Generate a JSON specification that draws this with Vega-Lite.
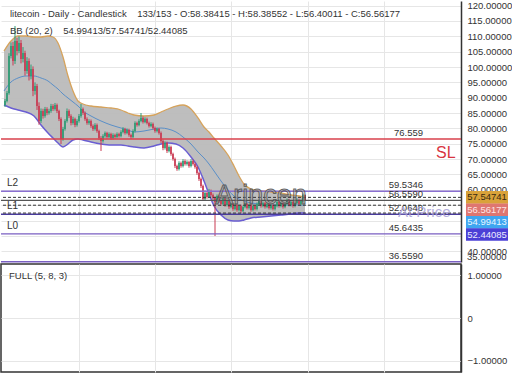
{
"$schema": "https://vega.github.io/schema/vega-lite/v6.json",
"padding": 0,
"spacing": 0,
"background": "white",
"config": {
 "view": {"stroke": null},
 "axis": {"labelFont": "Liberation Sans", "labelFontSize": 9.5, "labelColor": "#333", "gridColor": "#e6e6e6", "ticks": false, "title": null, "labelOverlap": false, "labelFlush": false},
 "text": {"font": "Liberation Sans"}
},
"datasets": {
 "candles": [
{"i":2,"o":87.63,"h":89.6,"l":87.0,"c":88.93},
{"i":3,"o":88.93,"h":92.2,"l":88.5,"c":91.54},
{"i":4,"o":91.54,"h":104.5,"l":91.0,"c":103.59},
{"i":5,"o":103.59,"h":108.0,"l":102.8,"c":106.84},
{"i":6,"o":106.84,"h":108.2,"l":100.5,"c":101.96},
{"i":7,"o":101.96,"h":113.36,"l":101.0,"c":108.47},
{"i":8,"o":108.47,"h":109.5,"l":103.8,"c":105.22},
{"i":9,"o":105.22,"h":110.0,"l":104.5,"c":107.82},
{"i":10,"o":107.82,"h":108.8,"l":101.2,"c":102.61},
{"i":11,"o":102.61,"h":106.5,"l":101.5,"c":104.57},
{"i":12,"o":104.57,"h":105.3,"l":97.2,"c":98.70},
{"i":13,"o":98.70,"h":103.2,"l":97.8,"c":101.96},
{"i":14,"o":101.96,"h":102.8,"l":95.6,"c":97.07},
{"i":15,"o":97.07,"h":100.8,"l":96.0,"c":99.35},
{"i":16,"o":99.35,"h":100.2,"l":90.5,"c":92.19},
{"i":17,"o":92.19,"h":95.0,"l":91.0,"c":93.82},
{"i":18,"o":93.82,"h":94.5,"l":86.0,"c":87.30},
{"i":19,"o":87.30,"h":88.5,"l":81.2,"c":82.42},
{"i":20,"o":82.42,"h":86.5,"l":81.8,"c":85.68},
{"i":21,"o":85.68,"h":86.4,"l":83.2,"c":84.05},
{"i":22,"o":84.05,"h":87.0,"l":83.5,"c":86.33},
{"i":23,"o":86.33,"h":86.9,"l":84.3,"c":85.02},
{"i":24,"o":85.02,"h":86.4,"l":84.5,"c":85.68},
{"i":25,"o":85.68,"h":88.0,"l":85.1,"c":87.30},
{"i":26,"o":87.30,"h":87.9,"l":85.7,"c":86.33},
{"i":27,"o":86.33,"h":88.3,"l":85.8,"c":87.63},
{"i":28,"o":87.63,"h":88.1,"l":85.0,"c":85.68},
{"i":29,"o":85.68,"h":86.1,"l":82.4,"c":83.07},
{"i":30,"o":83.07,"h":83.6,"l":74.93,"c":76.56},
{"i":31,"o":76.56,"h":80.5,"l":76.0,"c":79.81},
{"i":32,"o":79.81,"h":83.0,"l":79.3,"c":82.42},
{"i":33,"o":82.42,"h":86.5,"l":81.9,"c":85.68},
{"i":34,"o":85.68,"h":86.2,"l":83.4,"c":84.05},
{"i":35,"o":84.05,"h":84.6,"l":81.0,"c":81.77},
{"i":36,"o":81.77,"h":83.8,"l":81.2,"c":83.07},
{"i":37,"o":83.07,"h":83.5,"l":80.4,"c":81.12},
{"i":38,"o":81.12,"h":83.0,"l":80.6,"c":82.42},
{"i":39,"o":82.42,"h":84.7,"l":81.9,"c":84.05},
{"i":40,"o":84.05,"h":87.96,"l":83.5,"c":86.33},
{"i":41,"o":86.33,"h":86.8,"l":84.4,"c":85.02},
{"i":42,"o":85.02,"h":85.5,"l":82.5,"c":83.07},
{"i":43,"o":83.07,"h":83.6,"l":81.2,"c":81.77},
{"i":44,"o":81.77,"h":83.0,"l":81.2,"c":82.42},
{"i":45,"o":82.42,"h":82.9,"l":80.2,"c":80.79},
{"i":46,"o":80.79,"h":81.3,"l":79.2,"c":79.81},
{"i":47,"o":79.81,"h":81.7,"l":79.3,"c":81.12},
{"i":48,"o":81.12,"h":81.6,"l":78.6,"c":79.16},
{"i":49,"o":79.16,"h":79.6,"l":76.3,"c":76.88},
{"i":50,"o":76.88,"h":77.5,"l":72.65,"c":75.91},
{"i":51,"o":75.91,"h":78.1,"l":75.4,"c":77.53},
{"i":52,"o":77.53,"h":79.0,"l":77.0,"c":78.51},
{"i":53,"o":78.51,"h":78.9,"l":76.7,"c":77.21},
{"i":54,"o":77.21,"h":78.7,"l":76.8,"c":78.19},
{"i":55,"o":78.19,"h":78.6,"l":76.3,"c":76.88},
{"i":56,"o":76.88,"h":78.4,"l":76.4,"c":77.86},
{"i":57,"o":77.86,"h":78.3,"l":76.7,"c":77.21},
{"i":58,"o":77.21,"h":78.7,"l":76.8,"c":78.19},
{"i":59,"o":78.19,"h":78.6,"l":77.0,"c":77.53},
{"i":60,"o":77.53,"h":79.4,"l":77.1,"c":78.84},
{"i":61,"o":78.84,"h":80.4,"l":78.4,"c":79.81},
{"i":62,"o":79.81,"h":80.2,"l":78.0,"c":78.51},
{"i":63,"o":78.51,"h":80.0,"l":78.1,"c":79.49},
{"i":64,"o":79.49,"h":79.9,"l":77.3,"c":77.86},
{"i":65,"o":77.86,"h":78.3,"l":76.6,"c":77.21},
{"i":66,"o":77.21,"h":79.7,"l":76.8,"c":79.16},
{"i":67,"o":79.16,"h":82.3,"l":78.7,"c":81.77},
{"i":68,"o":81.77,"h":82.2,"l":80.6,"c":81.12},
{"i":69,"o":81.12,"h":83.0,"l":80.7,"c":82.42},
{"i":70,"o":82.42,"h":85.02,"l":82.0,"c":83.40},
{"i":71,"o":83.40,"h":83.9,"l":81.6,"c":82.09},
{"i":72,"o":82.09,"h":83.6,"l":81.7,"c":83.07},
{"i":73,"o":83.07,"h":83.5,"l":81.3,"c":81.77},
{"i":74,"o":81.77,"h":82.2,"l":80.3,"c":80.79},
{"i":75,"o":80.79,"h":82.0,"l":80.4,"c":81.44},
{"i":76,"o":81.44,"h":81.9,"l":79.6,"c":80.14},
{"i":77,"o":80.14,"h":80.6,"l":78.6,"c":79.16},
{"i":78,"o":79.16,"h":80.3,"l":78.7,"c":79.81},
{"i":79,"o":79.81,"h":80.2,"l":78.0,"c":78.51},
{"i":80,"o":78.51,"h":79.0,"l":75.3,"c":75.91},
{"i":81,"o":75.91,"h":76.4,"l":72.9,"c":73.63},
{"i":82,"o":73.63,"h":75.8,"l":73.1,"c":75.25},
{"i":83,"o":75.25,"h":75.7,"l":72.0,"c":72.65},
{"i":84,"o":72.65,"h":74.5,"l":72.2,"c":73.95},
{"i":85,"o":73.95,"h":74.4,"l":71.1,"c":71.67},
{"i":86,"o":71.67,"h":72.1,"l":69.5,"c":70.04},
{"i":87,"o":70.04,"h":70.5,"l":67.1,"c":67.76},
{"i":88,"o":67.76,"h":68.2,"l":66.2,"c":66.79},
{"i":89,"o":66.79,"h":69.3,"l":66.3,"c":68.74},
{"i":90,"o":68.74,"h":69.2,"l":67.2,"c":67.76},
{"i":91,"o":67.76,"h":70.0,"l":67.3,"c":69.39},
{"i":92,"o":69.39,"h":69.9,"l":67.9,"c":68.42},
{"i":93,"o":68.42,"h":69.6,"l":67.9,"c":69.07},
{"i":94,"o":69.07,"h":69.5,"l":67.2,"c":67.76},
{"i":95,"o":67.76,"h":70.0,"l":67.3,"c":69.39},
{"i":96,"o":69.39,"h":69.9,"l":67.9,"c":68.42},
{"i":97,"o":68.42,"h":68.9,"l":66.9,"c":67.44},
{"i":98,"o":67.44,"h":67.9,"l":64.9,"c":65.48},
{"i":99,"o":65.48,"h":65.9,"l":62.9,"c":63.53},
{"i":100,"o":63.53,"h":64.0,"l":60.6,"c":61.25},
{"i":101,"o":61.25,"h":61.7,"l":56.4,"c":57.02},
{"i":102,"o":57.02,"h":59.8,"l":56.6,"c":58.97},
{"i":103,"o":58.97,"h":59.4,"l":57.1,"c":57.67},
{"i":104,"o":57.67,"h":60.3,"l":57.2,"c":59.62},
{"i":105,"o":59.62,"h":60.1,"l":57.8,"c":58.32},
{"i":106,"o":58.32,"h":58.8,"l":56.8,"c":57.34},
{"i":107,"o":57.34,"h":57.8,"l":44.97,"c":56.04},
{"i":108,"o":56.04,"h":58.5,"l":55.6,"c":57.99},
{"i":109,"o":57.99,"h":58.4,"l":55.8,"c":56.37},
{"i":110,"o":56.37,"h":56.8,"l":54.8,"c":55.39},
{"i":111,"o":55.39,"h":57.5,"l":54.9,"c":57.02},
{"i":112,"o":57.02,"h":57.4,"l":54.5,"c":55.06},
{"i":113,"o":55.06,"h":56.9,"l":54.6,"c":56.37},
{"i":114,"o":56.37,"h":56.8,"l":53.8,"c":54.41},
{"i":115,"o":54.41,"h":55.9,"l":54.0,"c":55.39},
{"i":116,"o":55.39,"h":55.8,"l":53.2,"c":53.76},
{"i":117,"o":53.76,"h":55.6,"l":53.3,"c":55.06},
{"i":118,"o":55.06,"h":55.5,"l":52.9,"c":53.43},
{"i":119,"o":53.43,"h":55.2,"l":53.0,"c":54.74},
{"i":120,"o":54.74,"h":55.2,"l":52.5,"c":53.11},
{"i":121,"o":53.11,"h":54.9,"l":52.7,"c":54.41},
{"i":122,"o":54.41,"h":55.9,"l":54.0,"c":55.39},
{"i":123,"o":55.39,"h":55.8,"l":53.6,"c":54.09},
{"i":124,"o":54.09,"h":55.5,"l":53.6,"c":55.06},
{"i":125,"o":55.06,"h":55.5,"l":52.9,"c":53.43},
{"i":126,"o":53.43,"h":55.2,"l":53.0,"c":54.74},
{"i":127,"o":54.74,"h":55.2,"l":53.3,"c":53.76},
{"i":128,"o":53.76,"h":55.9,"l":53.3,"c":55.39},
{"i":129,"o":55.39,"h":56.8,"l":54.9,"c":56.37},
{"i":130,"o":56.37,"h":56.8,"l":54.2,"c":54.74},
{"i":131,"o":54.74,"h":56.2,"l":54.3,"c":55.71},
{"i":132,"o":55.71,"h":56.1,"l":53.9,"c":54.41},
{"i":133,"o":54.41,"h":55.9,"l":54.0,"c":55.39},
{"i":134,"o":55.39,"h":55.8,"l":53.6,"c":54.09},
{"i":135,"o":54.09,"h":55.5,"l":53.6,"c":55.06},
{"i":136,"o":55.06,"h":55.5,"l":53.3,"c":53.76},
{"i":137,"o":53.76,"h":55.2,"l":53.3,"c":54.74},
{"i":138,"o":54.74,"h":56.5,"l":54.3,"c":56.04},
{"i":139,"o":56.04,"h":56.5,"l":54.2,"c":54.74},
{"i":140,"o":54.74,"h":56.2,"l":54.3,"c":55.71},
{"i":141,"o":55.71,"h":56.1,"l":53.9,"c":54.41},
{"i":142,"o":54.41,"h":55.9,"l":54.0,"c":55.39},
{"i":143,"o":55.39,"h":57.2,"l":54.9,"c":56.69},
{"i":144,"o":56.69,"h":57.1,"l":54.6,"c":55.06},
{"i":145,"o":55.06,"h":56.5,"l":54.6,"c":56.04},
{"i":146,"o":56.04,"h":56.5,"l":54.2,"c":54.74},
{"i":147,"o":54.74,"h":56.2,"l":54.3,"c":55.71},
{"i":148,"o":55.71,"h":57.2,"l":55.3,"c":56.69},
{"i":149,"o":56.69,"h":57.1,"l":54.9,"c":55.39},
{"i":150,"o":55.39,"h":56.8,"l":54.9,"c":56.37},
{"i":151,"o":56.37,"h":58.8,"l":56.0,"c":58.38},
{"i":152,"o":58.38415,"h":58.38552,"l":56.40011,"c":56.56177}
 ],
 "band": [
{"i":1.5,"u":105.22,"m":92.19,"b":87.63},
{"i":5,"u":108.47,"m":95.12,"b":86.65},
{"i":8.5,"u":110.10,"m":96.42,"b":86.00},
{"i":12.5,"u":110.10,"m":97.07,"b":85.35},
{"i":16.5,"u":109.78,"m":97.07,"b":84.05},
{"i":20,"u":109.78,"m":96.42,"b":81.12},
{"i":23.5,"u":110.10,"m":95.45,"b":78.51},
{"i":26,"u":109.78,"m":94.14,"b":76.88},
{"i":28.5,"u":107.82,"m":92.84,"b":75.25},
{"i":31,"u":103.26,"m":91.21,"b":73.95},
{"i":33.5,"u":97.07,"m":89.91,"b":74.93},
{"i":36,"u":92.19,"m":88.61,"b":76.23},
{"i":38.5,"u":88.93,"m":87.30,"b":76.56},
{"i":41,"u":87.96,"m":85.68,"b":76.23},
{"i":45,"u":87.30,"m":84.05,"b":75.58},
{"i":50,"u":86.98,"m":82.42,"b":74.93},
{"i":55,"u":86.65,"m":81.12,"b":74.60},
{"i":60,"u":86.00,"m":80.14,"b":74.60},
{"i":63.5,"u":85.02,"m":79.49,"b":74.28},
{"i":66.5,"u":84.37,"m":78.84,"b":73.95},
{"i":71.5,"u":84.05,"m":79.16,"b":73.63},
{"i":76.5,"u":84.37,"m":79.81,"b":74.28},
{"i":80,"u":85.35,"m":80.14,"b":74.93},
{"i":83.5,"u":86.33,"m":79.81,"b":75.25},
{"i":87.5,"u":87.30,"m":78.84,"b":74.93},
{"i":91,"u":87.63,"m":77.21,"b":73.63},
{"i":95,"u":86.33,"m":74.93,"b":70.70},
{"i":98.5,"u":83.40,"m":72.32,"b":67.44},
{"i":101.5,"u":80.47,"m":70.37,"b":62.88},
{"i":104,"u":78.84,"m":68.42,"b":58.65},
{"i":106.5,"u":76.88,"m":66.14,"b":54.74},
{"i":110,"u":74.28,"m":62.88,"b":51.81},
{"i":113.5,"u":71.35,"m":59.95,"b":50.18},
{"i":116.5,"u":67.76,"m":57.99,"b":49.85},
{"i":119,"u":64.51,"m":57.02,"b":49.85},
{"i":121.5,"u":61.90,"m":56.37,"b":50.18},
{"i":125,"u":60.27,"m":55.71,"b":50.83},
{"i":130,"u":59.62,"m":55.39,"b":51.16},
{"i":135,"u":59.30,"m":55.06,"b":51.48},
{"i":140,"u":58.97,"m":55.06,"b":51.81},
{"i":145,"u":58.32,"m":55.06,"b":52.13},
{"i":149,"u":57.99,"m":55.06,"b":52.46},
{"i":152,"u":57.54741,"m":54.99413,"b":52.44085}
 ],
 "levels": [
{"name":"SL","v":76.559,"txt":"76.559"},
{"name":"L2","v":59.5346,"txt":"59.5346"},
{"name":"E","v":56.559,"txt":"56.5590"},
{"name":"L1","v":52.0648,"txt":"52.0648"},
{"name":"L0","v":45.6435,"txt":"45.6435"},
{"name":"B","v":36.559,"txt":"36.5590"}
 ]
},
"vconcat": [
{
 "width": 460,
 "height": 261,
 "layer": [
  {"data": {"name": "band"},
   "mark": {"type": "area", "color": "#bababa", "opacity": 0.95, "interpolate": "monotone"},
   "encoding": {
    "x": {"field": "i", "type": "quantitative", "scale": {"domain": [0, 230], "nice": false, "zero": false},
          "axis": {"values": [39, 77, 115, 153.5, 191.5], "labels": false, "domain": false, "grid": true, "title": null}},
    "y": {"field": "u", "type": "quantitative", "scale": {"domain": [36.5, 121.5], "nice": false, "zero": false},
          "axis": {"orient": "right", "values": [40,45,50,55,60,65,70,75,80,85,90,95,100,105,110,115,120], "labelExpr": "datum.value == 45 || datum.value == 50 || datum.value == 55 ? '' : format(datum.value, '.5f')", "labelPadding": 6, "domain": true, "domainColor": "#333", "domainWidth": 1.5, "grid": true, "title": null}},
    "y2": {"field": "b"}
   }},
  {"data": {"name": "band"},
   "mark": {"type": "line", "color": "#d6a35c", "strokeWidth": 1.3, "interpolate": "monotone"},
   "encoding": {
    "x": {"field": "i", "type": "quantitative", "axis": {"values": [39, 77, 115, 153.5, 191.5], "labels": false, "domain": false, "grid": true, "title": null}},
    "y": {"field": "u", "type": "quantitative", "axis": {"orient": "right", "values": [40,45,50,55,60,65,70,75,80,85,90,95,100,105,110,115,120], "labelExpr": "datum.value == 45 || datum.value == 50 || datum.value == 55 ? '' : format(datum.value, '.5f')", "labelPadding": 6, "domain": true, "domainColor": "#333", "domainWidth": 1.5, "grid": true, "title": null}}}},
  {"data": {"name": "band"},
   "mark": {"type": "line", "color": "#6a5ed2", "strokeWidth": 1.5, "interpolate": "monotone"},
   "encoding": {
    "x": {"field": "i", "type": "quantitative", "axis": {"values": [39, 77, 115, 153.5, 191.5], "labels": false, "domain": false, "grid": true, "title": null}},
    "y": {"field": "b", "type": "quantitative", "axis": {"orient": "right", "values": [40,45,50,55,60,65,70,75,80,85,90,95,100,105,110,115,120], "labelExpr": "datum.value == 45 || datum.value == 50 || datum.value == 55 ? '' : format(datum.value, '.5f')", "labelPadding": 6, "domain": true, "domainColor": "#333", "domainWidth": 1.5, "grid": true, "title": null}}}},
  {"data": {"name": "band"},
   "mark": {"type": "line", "color": "#5a8fc8", "strokeWidth": 1, "interpolate": "monotone"},
   "encoding": {
    "x": {"field": "i", "type": "quantitative", "axis": {"values": [39, 77, 115, 153.5, 191.5], "labels": false, "domain": false, "grid": true, "title": null}},
    "y": {"field": "m", "type": "quantitative", "axis": {"orient": "right", "values": [40,45,50,55,60,65,70,75,80,85,90,95,100,105,110,115,120], "labelExpr": "datum.value == 45 || datum.value == 50 || datum.value == 55 ? '' : format(datum.value, '.5f')", "labelPadding": 6, "domain": true, "domainColor": "#333", "domainWidth": 1.5, "grid": true, "title": null}}}},
  {"data": {"name": "candles"},
   "mark": {"type": "rule", "strokeWidth": 1},
   "encoding": {
    "x": {"field": "i", "type": "quantitative", "axis": {"values": [39, 77, 115, 153.5, 191.5], "labels": false, "domain": false, "grid": true, "title": null}},
    "y": {"field": "l", "type": "quantitative", "axis": {"orient": "right", "values": [40,45,50,55,60,65,70,75,80,85,90,95,100,105,110,115,120], "labelExpr": "datum.value == 45 || datum.value == 50 || datum.value == 55 ? '' : format(datum.value, '.5f')", "labelPadding": 6, "domain": true, "domainColor": "#333", "domainWidth": 1.5, "grid": true, "title": null}},
    "y2": {"field": "h"},
    "color": {"condition": {"test": "datum.c >= datum.o", "value": "#2e9b74"}, "value": "#c93a52"}}},
  {"data": {"name": "candles"},
   "mark": {"type": "rule", "strokeWidth": 1.6},
   "encoding": {
    "x": {"field": "i", "type": "quantitative", "axis": {"values": [39, 77, 115, 153.5, 191.5], "labels": false, "domain": false, "grid": true, "title": null}},
    "y": {"field": "o", "type": "quantitative", "axis": {"orient": "right", "values": [40,45,50,55,60,65,70,75,80,85,90,95,100,105,110,115,120], "labelExpr": "datum.value == 45 || datum.value == 50 || datum.value == 55 ? '' : format(datum.value, '.5f')", "labelPadding": 6, "domain": true, "domainColor": "#333", "domainWidth": 1.5, "grid": true, "title": null}},
    "y2": {"field": "c"},
    "color": {"condition": {"test": "datum.c >= datum.o", "value": "#2e9b74"}, "value": "#c93a52"}}},
  {"data": {"name": "levels"},
   "mark": {"type": "rule", "strokeWidth": 1.4},
   "encoding": {
    "y": {"field": "v", "type": "quantitative", "axis": {"orient": "right", "values": [40,45,50,55,60,65,70,75,80,85,90,95,100,105,110,115,120], "labelExpr": "datum.value == 45 || datum.value == 50 || datum.value == 55 ? '' : format(datum.value, '.5f')", "labelPadding": 6, "domain": true, "domainColor": "#333", "domainWidth": 1.5, "grid": true, "title": null}},
    "color": {"field": "name", "type": "nominal", "legend": null,
     "scale": {"domain": ["SL","L2","E","L1","L0","B"], "range": ["#d8414b","#8a6fcf","#555555","#4a3c9c","#7a5fc2","#7a5fc2"]}}}},
  {"data": {"values": [{"v": 57.54741}, {"v": 54.99413}, {"v": 52.44085}]},
   "mark": {"type": "rule", "strokeDash": [3, 2], "color": "#333", "strokeWidth": 1},
   "encoding": {
    "y": {"field": "v", "type": "quantitative", "axis": {"orient": "right", "values": [40,45,50,55,60,65,70,75,80,85,90,95,100,105,110,115,120], "labelExpr": "datum.value == 45 || datum.value == 50 || datum.value == 55 ? '' : format(datum.value, '.5f')", "labelPadding": 6, "domain": true, "domainColor": "#333", "domainWidth": 1.5, "grid": true, "title": null}}}},
  {"data": {"name": "levels"},
   "mark": {"type": "text", "align": "right", "baseline": "bottom", "dy": -1, "fontSize": 9.5, "color": "#333"},
   "encoding": {
    "x": {"datum": 211, "type": "quantitative", "axis": {"values": [39, 77, 115, 153.5, 191.5], "labels": false, "domain": false, "grid": true, "title": null}},
    "y": {"field": "v", "type": "quantitative", "axis": {"orient": "right", "values": [40,45,50,55,60,65,70,75,80,85,90,95,100,105,110,115,120], "labelExpr": "datum.value == 45 || datum.value == 50 || datum.value == 55 ? '' : format(datum.value, '.5f')", "labelPadding": 6, "domain": true, "domainColor": "#333", "domainWidth": 1.5, "grid": true, "title": null}},
    "text": {"field": "txt"}}},
  {"data": {"name": "levels"},
   "transform": [{"filter": "datum.name == 'L2' || datum.name == 'L1' || datum.name == 'L0'"}],
   "mark": {"type": "text", "align": "left", "baseline": "bottom", "dy": -3, "fontSize": 10, "color": "#333"},
   "encoding": {
    "x": {"datum": 3, "type": "quantitative", "axis": {"values": [39, 77, 115, 153.5, 191.5], "labels": false, "domain": false, "grid": true, "title": null}},
    "y": {"field": "v", "type": "quantitative", "axis": {"orient": "right", "values": [40,45,50,55,60,65,70,75,80,85,90,95,100,105,110,115,120], "labelExpr": "datum.value == 45 || datum.value == 50 || datum.value == 55 ? '' : format(datum.value, '.5f')", "labelPadding": 6, "domain": true, "domainColor": "#333", "domainWidth": 1.5, "grid": true, "title": null}},
    "text": {"field": "name"}}},
  {"data": {"values": [{"t": "litecoin - Daily - Candlestick\u00a0\u00a0\u00a0 133/153 - O:58.38415 - H:58.38552 - L:56.40011 - C:56.56177"}]},
   "mark": {"type": "text", "align": "left", "baseline": "middle", "fontSize": 9.5, "color": "#333"},
   "encoding": {
    "x": {"datum": 4.5, "type": "quantitative", "axis": {"values": [39, 77, 115, 153.5, 191.5], "labels": false, "domain": false, "grid": true, "title": null}},
    "y": {"datum": 117.27, "type": "quantitative", "axis": {"orient": "right", "values": [40,45,50,55,60,65,70,75,80,85,90,95,100,105,110,115,120], "labelExpr": "datum.value == 45 || datum.value == 50 || datum.value == 55 ? '' : format(datum.value, '.5f')", "labelPadding": 6, "domain": true, "domainColor": "#333", "domainWidth": 1.5, "grid": true, "title": null}},
    "text": {"field": "t"}}},
  {"data": {"values": [{"t": "BB (20, 2)\u00a0\u00a0\u00a0 54.99413/57.54741/52.44085"}]},
   "mark": {"type": "text", "align": "left", "baseline": "middle", "fontSize": 9.5, "color": "#333"},
   "encoding": {
    "x": {"datum": 4.5, "type": "quantitative", "axis": {"values": [39, 77, 115, 153.5, 191.5], "labels": false, "domain": false, "grid": true, "title": null}},
    "y": {"datum": 111.73, "type": "quantitative", "axis": {"orient": "right", "values": [40,45,50,55,60,65,70,75,80,85,90,95,100,105,110,115,120], "labelExpr": "datum.value == 45 || datum.value == 50 || datum.value == 55 ? '' : format(datum.value, '.5f')", "labelPadding": 6, "domain": true, "domainColor": "#333", "domainWidth": 1.5, "grid": true, "title": null}},
    "text": {"field": "t"}}},
  {"data": {"values": [{"t": "SL"}]},
   "mark": {"type": "text", "align": "left", "baseline": "middle", "fontSize": 16, "color": "#d8343f"},
   "encoding": {
    "x": {"datum": 217.5, "type": "quantitative", "axis": {"values": [39, 77, 115, 153.5, 191.5], "labels": false, "domain": false, "grid": true, "title": null}},
    "y": {"datum": 72.0, "type": "quantitative", "axis": {"orient": "right", "values": [40,45,50,55,60,65,70,75,80,85,90,95,100,105,110,115,120], "labelExpr": "datum.value == 45 || datum.value == 50 || datum.value == 55 ? '' : format(datum.value, '.5f')", "labelPadding": 6, "domain": true, "domainColor": "#333", "domainWidth": 1.5, "grid": true, "title": null}},
    "text": {"field": "t"}}},
  {"data": {"values": [{"t": "Arincen"}]},
   "mark": {"type": "text", "align": "center", "baseline": "middle", "fontSize": 27, "fill": "#a0a0a0", "fillOpacity": 0.45, "stroke": "#4a4a4a", "strokeWidth": 0.9, "strokeOpacity": 0.85},
   "encoding": {
    "x": {"datum": 130, "type": "quantitative", "axis": {"values": [39, 77, 115, 153.5, 191.5], "labels": false, "domain": false, "grid": true, "title": null}},
    "y": {"datum": 57.99, "type": "quantitative", "axis": {"orient": "right", "values": [40,45,50,55,60,65,70,75,80,85,90,95,100,105,110,115,120], "labelExpr": "datum.value == 45 || datum.value == 50 || datum.value == 55 ? '' : format(datum.value, '.5f')", "labelPadding": 6, "domain": true, "domainColor": "#333", "domainWidth": 1.5, "grid": true, "title": null}},
    "text": {"field": "t"}}},
  {"data": {"values": [{"t": "At Price"}]},
   "mark": {"type": "text", "align": "left", "baseline": "middle", "fontSize": 15, "color": "#a9a2d8", "opacity": 0.85},
   "encoding": {
    "x": {"datum": 198.5, "type": "quantitative", "axis": {"values": [39, 77, 115, 153.5, 191.5], "labels": false, "domain": false, "grid": true, "title": null}},
    "y": {"datum": 52.78, "type": "quantitative", "axis": {"orient": "right", "values": [40,45,50,55,60,65,70,75,80,85,90,95,100,105,110,115,120], "labelExpr": "datum.value == 45 || datum.value == 50 || datum.value == 55 ? '' : format(datum.value, '.5f')", "labelPadding": 6, "domain": true, "domainColor": "#333", "domainWidth": 1.5, "grid": true, "title": null}},
    "text": {"field": "t"}}},
  {"data": {"values": [{"t": "35.00000"}]},
   "mark": {"type": "text", "align": "left", "baseline": "bottom", "fontSize": 9.5, "color": "#333"},
   "encoding": {
    "x": {"datum": 233, "type": "quantitative", "axis": {"values": [39, 77, 115, 153.5, 191.5], "labels": false, "domain": false, "grid": true, "title": null}},
    "y": {"datum": 36.5, "type": "quantitative", "axis": {"orient": "right", "values": [40,45,50,55,60,65,70,75,80,85,90,95,100,105,110,115,120], "labelExpr": "datum.value == 45 || datum.value == 50 || datum.value == 55 ? '' : format(datum.value, '.5f')", "labelPadding": 6, "domain": true, "domainColor": "#333", "domainWidth": 1.5, "grid": true, "title": null}},
    "text": {"field": "t"}}},
  {"data": {"values": [{"v": 57.54741, "k": 1}, {"v": 56.56177, "k": 2}, {"v": 54.99413, "k": 3}, {"v": 52.44085, "k": 4}]},
   "layer": [
    {"transform": [{"filter": "datum.k == 1"}], "mark": {"type": "point", "filled": true, "opacity": 1, "shape": "M-1,-0.3L1,-0.3L1,0.3L-1,0.3Z", "size": 1764, "color": "#d9a23a", "yOffset": 0}},
    {"transform": [{"filter": "datum.k == 1"}], "mark": {"type": "text", "align": "center", "baseline": "middle", "fontSize": 9.5, "color": "#3a2a10", "yOffset": 0}, "encoding": {"text": {"field": "v", "format": ".5f"}}},
    {"transform": [{"filter": "datum.k == 2"}], "mark": {"type": "point", "filled": true, "opacity": 1, "shape": "M-1,-0.3L1,-0.3L1,0.3L-1,0.3Z", "size": 1764, "color": "#df7670", "yOffset": 9.3}},
    {"transform": [{"filter": "datum.k == 2"}], "mark": {"type": "text", "align": "center", "baseline": "middle", "fontSize": 9.5, "color": "#fde4e4", "yOffset": 9.3}, "encoding": {"text": {"field": "v", "format": ".5f"}}},
    {"transform": [{"filter": "datum.k == 3"}], "mark": {"type": "point", "filled": true, "opacity": 1, "shape": "M-1,-0.3L1,-0.3L1,0.3L-1,0.3Z", "size": 1764, "color": "#3fa6f0", "yOffset": 17}},
    {"transform": [{"filter": "datum.k == 3"}], "mark": {"type": "text", "align": "center", "baseline": "middle", "fontSize": 9.5, "color": "#e8f6ff", "yOffset": 17}, "encoding": {"text": {"field": "v", "format": ".5f"}}},
    {"transform": [{"filter": "datum.k == 4"}], "mark": {"type": "point", "filled": true, "opacity": 1, "shape": "M-1,-0.3L1,-0.3L1,0.3L-1,0.3Z", "size": 1764, "color": "#4b40d6", "yOffset": 21.5}},
    {"transform": [{"filter": "datum.k == 4"}], "mark": {"type": "text", "align": "center", "baseline": "middle", "fontSize": 9.5, "color": "#ececff", "yOffset": 21.5}, "encoding": {"text": {"field": "v", "format": ".5f"}}}
   ],
   "encoding": {
    "x": {"datum": 243, "type": "quantitative", "axis": {"values": [39, 77, 115, 153.5, 191.5], "labels": false, "domain": false, "grid": true, "title": null}},
    "y": {"field": "v", "type": "quantitative", "axis": {"orient": "right", "values": [40,45,50,55,60,65,70,75,80,85,90,95,100,105,110,115,120], "labelExpr": "datum.value == 45 || datum.value == 50 || datum.value == 55 ? '' : format(datum.value, '.5f')", "labelPadding": 6, "domain": true, "domainColor": "#333", "domainWidth": 1.5, "grid": true, "title": null}}
   }}
 ]
},
{
 "width": 460,
 "height": 108,
 "view": {"stroke": "#333", "strokeWidth": 1.5},
 "data": {"values": [{"t": "FULL (5, 8, 3)"}]},
 "mark": {"type": "text", "align": "left", "baseline": "middle", "fontSize": 9.5, "color": "#333"},
 "encoding": {
  "x": {"datum": 4, "type": "quantitative", "scale": {"domain": [0, 230], "nice": false, "zero": false},
        "axis": {"values": [39, 77, 115, 153.5, 191.5], "labels": false, "domain": false, "grid": true, "title": null}},
  "y": {"datum": 0.98, "type": "quantitative", "scale": {"domain": [-1.256, 1.256], "nice": false, "zero": false},
        "axis": {"orient": "right", "values": [-1, 0, 1], "labelExpr": "datum.value == 0 ? '0' : format(datum.value, '.5f')",
                 "labelPadding": 6, "domain": true, "domainColor": "#333", "domainWidth": 1.5, "grid": true, "title": null}},
  "text": {"field": "t"}
 }
}
]
}
